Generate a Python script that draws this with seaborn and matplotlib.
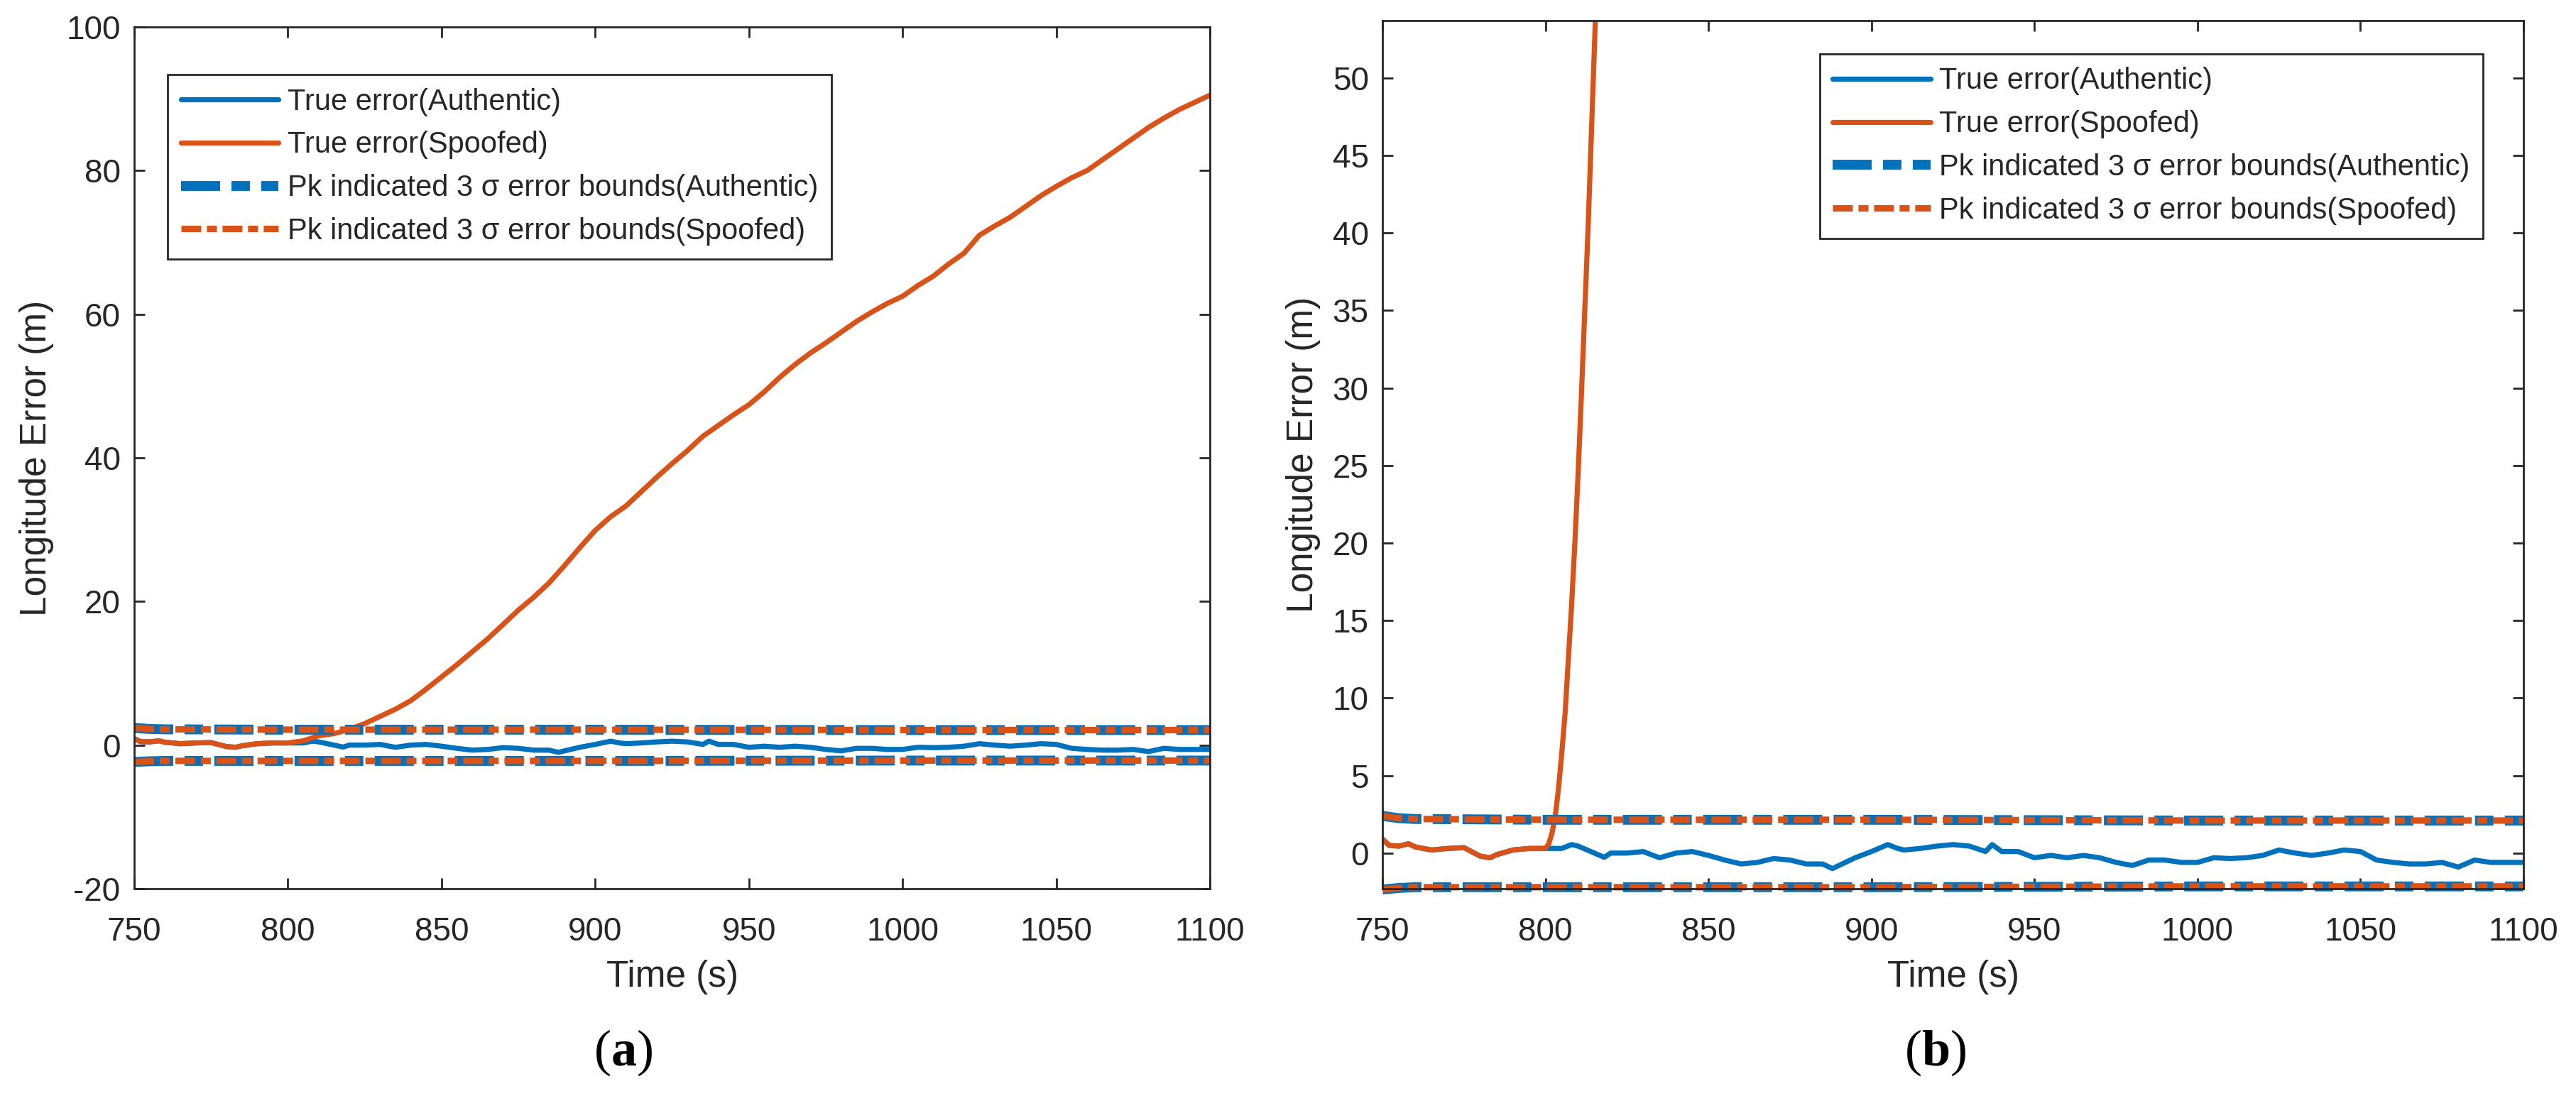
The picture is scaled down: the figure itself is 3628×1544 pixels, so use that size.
import numpy as np
import seaborn as sns
import matplotlib.pyplot as plt

sns.set_theme(style="ticks")
plt.rcParams['font.family'] = ['Liberation Sans', 'DejaVu Sans']
plt.rcParams['axes.unicode_minus'] = False
plt.rcParams['mathtext.fontset'] = 'custom'
plt.rcParams['mathtext.rm'] = 'Liberation Serif'
plt.rcParams['mathtext.bf'] = 'Liberation Serif:bold'

# --- data ---
# shared part before spoofing starts (authentic == spoofed)
early_t = [750, 752, 755, 758, 760, 765, 770, 775, 780, 783, 785, 790, 795, 800]
early_v = [0.9, 0.5, 0.45, 0.6, 0.4, 0.2, 0.3, 0.35, -0.2, -0.3, -0.1, 0.2, 0.3, 0.3]

# true error (authentic) after 800 s
auth_t = [805, 808, 810, 815, 818, 820, 825, 830, 833, 835, 840, 845, 850, 855, 860,
          865, 870, 875, 880, 885, 888, 890, 895, 900, 905, 908, 910, 915, 920, 925,
          930, 935, 937, 940, 945, 950, 955, 960, 965, 970, 975, 980, 985, 990, 995,
          1000, 1005, 1010, 1015, 1020, 1025, 1030, 1035, 1040, 1045, 1050, 1055,
          1060, 1065, 1070, 1075, 1080, 1085, 1090, 1095, 1100]
auth_v = [0.3, 0.55, 0.45, 0.0, -0.27, 0.0, 0.0, 0.1, -0.15, -0.3, 0.0, 0.1, -0.15,
          -0.45, -0.7, -0.6, -0.35, -0.45, -0.7, -0.7, -1.0, -0.8, -0.3, 0.1, 0.55,
          0.3, 0.2, 0.3, 0.45, 0.55, 0.45, 0.1, 0.55, 0.1, 0.1, -0.3, -0.15, -0.3,
          -0.15, -0.3, -0.6, -0.8, -0.45, -0.45, -0.6, -0.6, -0.3, -0.35, -0.3, -0.15,
          0.2, 0.0, -0.15, 0.0, 0.2, 0.1, -0.45, -0.6, -0.7, -0.7, -0.6, -0.9, -0.45,
          -0.6, -0.6, -0.6]

# true error (spoofed), panel (a): slow drift after 800 s
spoof_a_t = [805, 810, 815, 820, 825, 830, 835, 840, 845, 850, 855, 860, 865, 870,
             875, 880, 885, 890, 895, 900, 905, 910, 915, 920, 925, 930, 935, 940,
             945, 950, 955, 960, 965, 970, 975, 980, 985, 990, 995, 1000, 1005, 1010,
             1015, 1020, 1025, 1030, 1035, 1040, 1045, 1050, 1055, 1060, 1065, 1070,
             1075, 1080, 1085, 1090, 1095, 1100]
spoof_a_v = [0.6, 1.3, 1.6, 2.2, 3.0, 4.0, 5.0, 6.2, 7.8, 9.5, 11.2, 13.0, 14.8, 16.8,
             18.8, 20.6, 22.6, 25.0, 27.5, 29.9, 31.8, 33.3, 35.3, 37.3, 39.2, 41.0,
             43.0, 44.5, 46.0, 47.4, 49.2, 51.2, 53.0, 54.6, 56.0, 57.5, 59.0, 60.3,
             61.5, 62.5, 64.0, 65.3, 67.0, 68.5, 71.0, 72.3, 73.5, 75.0, 76.5, 77.8,
             79.0, 80.0, 81.5, 83.0, 84.5, 86.0, 87.3, 88.5, 89.5, 90.5]

# true error (spoofed), panel (b): fast jump after 800 s
spoof_b_t = [801, 802, 803, 804, 805, 806, 807, 808, 809, 810, 811, 812, 813, 814,
             815, 816]
spoof_b_v = [0.6, 1.3, 2.4, 4.2, 6.5, 9.0, 12.5, 16.0, 20.0, 24.5, 29.5, 34.8, 40.0,
             46.0, 52.0, 58.0]

# Pk indicated 3 sigma bounds (same for authentic and spoofed)
bound_t = [750, 755, 760, 800, 900, 1000, 1100]
bound_up = [2.4, 2.25, 2.2, 2.15, 2.15, 2.1, 2.1]
bound_lo = [-2.35, -2.25, -2.2, -2.2, -2.2, -2.15, -2.15]

labels = ["True error(Authentic)", "True error(Spoofed)",
          "Pk indicated 3 \u03c3 error bounds(Authentic)",
          "Pk indicated 3 \u03c3 error bounds(Spoofed)"]

blue = "#0072BD"
orange = "#D95319"
dark = "#262626"
blue_dash = (0, (3.96, 1.15, 1.87, 1.15))
orange_dashdot = (0, (3.05, 0.87, 1.53, 0.87))

fig = plt.figure(figsize=(18.14, 7.72), dpi=200)
ax_a = fig.add_axes([0.0521, 0.1891, 0.4176, 0.7863])
ax_b = fig.add_axes([0.5367, 0.1891, 0.4429, 0.7921])


def draw(ax, spoof_t, spoof_v):
    sns.lineplot(x=early_t + auth_t, y=early_v + auth_v, ax=ax, color=blue, lw=2.6,
                 sort=False, estimator=None)
    sns.lineplot(x=early_t + spoof_t, y=early_v + spoof_v, ax=ax, color=orange, lw=2.6,
                 sort=False, estimator=None)
    for b in (bound_up, bound_lo):
        sns.lineplot(x=bound_t, y=b, ax=ax, color=blue, lw=5, linestyle=blue_dash,
                     sort=False, estimator=None, clip_on=False)
    for b in (bound_up, bound_lo):
        sns.lineplot(x=bound_t, y=b, ax=ax, color=orange, lw=3.3,
                     linestyle=orange_dashdot, sort=False, estimator=None, clip_on=False)
    lines = ax.get_lines()
    handles = [lines[0], lines[1], lines[2], lines[4]]
    ax.set_xlim(750, 1100)
    ax.set_xticks(np.arange(750, 1101, 50))
    ax.set_xlabel("Time (s)", fontsize=18.5, color=dark, labelpad=6)
    ax.set_ylabel("Longitude Error (m)", fontsize=18.5, color=dark, labelpad=6)
    ax.tick_params(direction="in", top=True, right=True, length=5.5, width=1,
                   labelsize=16.5, colors=dark)
    ax.tick_params(axis="x", pad=14)
    ax.tick_params(axis="y", pad=7)
    for s in ax.spines.values():
        s.set_color(dark)
        s.set_linewidth(1)
        s.set_visible(True)
    return handles


def add_legend(ax, handles, anchor):
    leg = ax.legend(handles, labels, loc="upper left", bbox_to_anchor=anchor,
                    borderaxespad=0, fontsize=15.0, handlelength=3.3,
                    handletextpad=0.3, labelspacing=0.5, fancybox=False,
                    framealpha=1, edgecolor=dark, borderpad=0.45)
    leg.get_frame().set_linewidth(1)


h = draw(ax_a, spoof_a_t, spoof_a_v)
ax_a.set_ylim(-20, 100)
ax_a.set_yticks(np.arange(-20, 101, 20))
add_legend(ax_a, h, (0.031, 0.945))

h = draw(ax_b, spoof_b_t, spoof_b_v)
ax_b.set_ylim(-2.3, 53.7)
ax_b.set_yticks(np.arange(0, 51, 5))
add_legend(ax_b, h, (0.383, 0.962))

fig.text(878 / 3628, 1 - 1483 / 1544, r"$(\mathbf{a})$", fontsize=26,
         ha="center", va="center", color="black")
fig.text(2726 / 3628, 1 - 1483 / 1544, r"$(\mathbf{b})$", fontsize=26,
         ha="center", va="center", color="black")

fig.savefig("out.png", dpi=200)
